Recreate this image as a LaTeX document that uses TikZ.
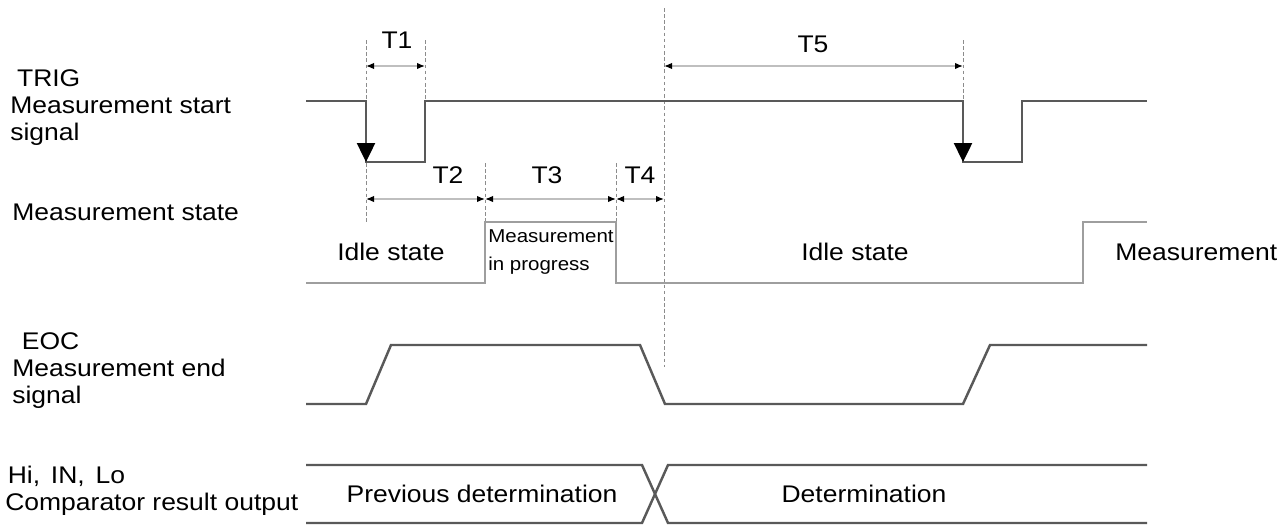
\documentclass[tikz,border=0pt]{standalone}
\usepackage{fontspec}
\setmainfont{Liberation Sans}[FakeStretch=1.1]
\usetikzlibrary{arrows.meta}

\tikzset{
  sig/.style={line width=1.4pt, draw=black!65, line join=miter},
  mstat/.style={line width=1.1pt, draw=black!38},
  guide/.style={line width=0.5pt, draw=black!45, dash pattern=on 2pt off 1.5pt},
  dim/.style={line width=0.8pt, draw=black!25,
    {Latex[length=1.6mm,width=1.3mm,color=black]}-{Latex[length=1.6mm,width=1.3mm,color=black]}},
  fall/.style={-{Triangle[length=3.8mm,width=3.6mm,color=black]}},
  lbl/.style={font=\fontsize{13.7}{15.4}\selectfont, inner sep=0pt},
  small/.style={font=\fontsize{10.6}{15.4}\selectfont, inner sep=0pt},
}

\begin{document}
\begin{tikzpicture}[x=0.02cm, y=-0.02cm]
    \useasboundingbox (0,0) rectangle (1284,524);

    % 信号名
    \node[lbl, anchor=west, align=left] (trig) at (10,108) {\hspace*{0.28em}TRIG\\Measurement start\\signal};
    \node[lbl, anchor=west] (mstate) at (12,212) {Measurement state};
    \node[lbl, anchor=west, align=left] (eoc) at (12,371) {\hspace*{0.4em}EOC\\Measurement end\\signal};
    \node[lbl, anchor=west, align=left] (cmp) at (5,491) {\hspace*{0.1em}Hi,\hspace{0.45em}IN,\hspace{0.45em}Lo\\Comparator result output};

    % 補助線 (点線)
    \draw[guide] (664,8) -- (664,367);
    \draw[guide] (366,40) -- (366,222);
    \draw[guide] (425,40) -- (425,101);
    \draw[guide] (963,40) -- (963,101);
    \draw[guide] (485,163) -- (485,222);
    \draw[guide] (616,163) -- (616,222);

    % TRIG
    \draw[sig] (306,101) -- (366,101) -- (366,162) -- (425,162) -- (425,101) -- (963,101)
        -- (963,162) -- (1022,162) -- (1022,101) -- (1147,101);
    \draw[sig, fall] (366,101) -- (366,162);
    \draw[sig, fall] (963,101) -- (963,162);

    % 測定状態
    \draw[mstat] (306,283) -- (485,283) -- (485,222) -- (616,222) -- (616,283)
        -- (1083,283) -- (1083,222) -- (1147,222);
    \node[lbl] (idle1) at (391,252) {Idle state};
    \node[small, anchor=west, align=left] (prog) at (488,252) {Measurement\\in progress};
    \node[lbl] (idle2) at (855,252) {Idle state};
    \node[lbl, anchor=west] (meas) at (1115,252) {Measurement};

    % EOC
    \draw[sig] (306,404) -- (366,404) -- (391,345) -- (640,345) -- (665,404)
        -- (963,404) -- (990,345) -- (1147,345);

    % Hi, IN, Lo
    \draw[sig] (306,465) -- (642,465) -- (668,523) -- (1147,523);
    \draw[sig] (306,523) -- (642,523) -- (668,465) -- (1147,465);
    \node[lbl] (prev) at (482,494) {Previous determination};
    \node[lbl] (det) at (864,494) {Determination};

    % 時間幅
    \coordinate (t1a) at (366,66);  \coordinate (t1b) at (425,66);
    \coordinate (t5a) at (664,66);  \coordinate (t5b) at (963,66);
    \coordinate (t2a) at (366,199); \coordinate (t2b) at (485,199);
    \coordinate (t3b) at (616,199); \coordinate (t4b) at (664,199);
    \draw[dim] (t1a) -- (t1b);
    \draw[dim] (t5a) -- (t5b);
    \draw[dim] (t2a) -- (t2b);
    \draw[dim] (t2b) -- (t3b);
    \draw[dim] (t3b) -- (t4b);
    \node[lbl] (t1) at (397,40) {T1};
    \node[lbl] (t5) at (813,44) {T5};
    \node[lbl] (t2) at (448,175) {T2};
    \node[lbl] (t3) at (547,175) {T3};
    \node[lbl] (t4) at (640,175) {T4};
\end{tikzpicture}
\end{document}
